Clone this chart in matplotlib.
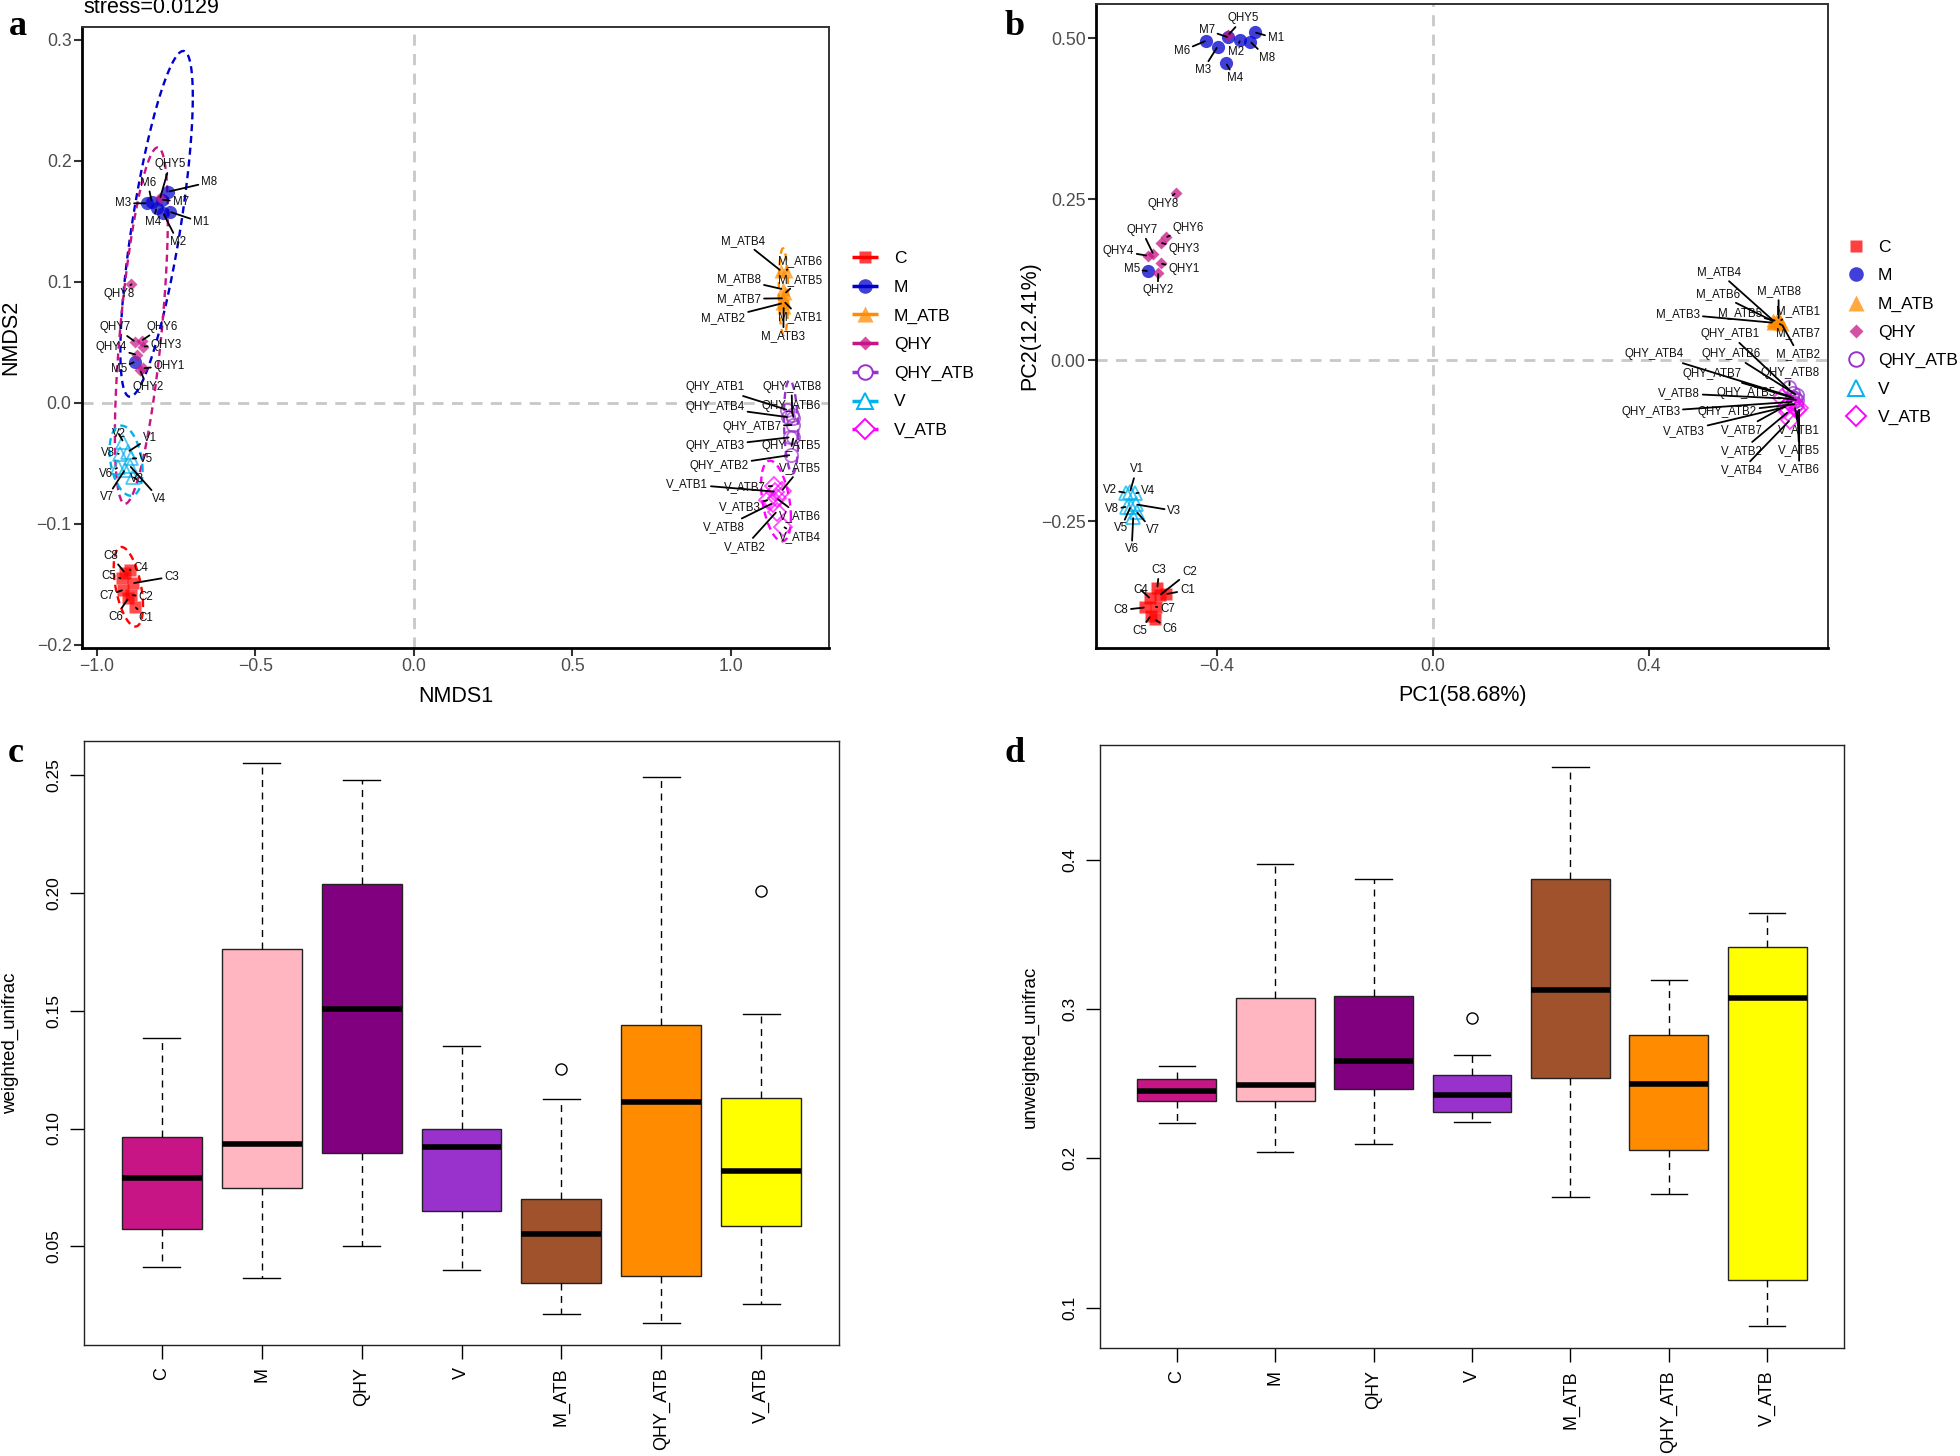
import numpy as np
import matplotlib
matplotlib.use("Agg")
import matplotlib.pyplot as plt
from matplotlib.text import Text

plt.rcParams['font.family'] = ['Liberation Sans', 'DejaVu Sans']

# ===================== DATA =====================
groups = ['C', 'M', 'M_ATB', 'QHY', 'QHY_ATB', 'V', 'V_ATB']
sample_ids = [1, 2, 3, 4, 5, 6, 7, 8]

# ---- panel a : NMDS (samples 1..8) ----
a_C_x = [-0.880, -0.891, -0.887, -0.896, -0.922, -0.901, -0.917, -0.912]
a_C_y = [-0.1683, -0.1587, -0.149, -0.138, -0.145, -0.1614, -0.1545, -0.1402]
a_M_x = [-0.770, -0.791, -0.843, -0.812, -0.880, -0.827, -0.796, -0.775]
a_M_y = [0.158, 0.157, 0.165, 0.161, 0.034, 0.1664, 0.168, 0.1746]
a_MATB_x = [1.168, 1.162, 1.166, 1.157, 1.170, 1.172, 1.165, 1.163]
a_MATB_y = [0.0837, 0.0824, 0.0796, 0.1093, 0.0906, 0.1093, 0.0865, 0.094]
a_QHY_x = [-0.854, -0.864, -0.854, -0.875, -0.801, -0.859, -0.880, -0.891]
a_QHY_y = [0.0287, 0.027, 0.0466, 0.0397, 0.169, 0.0515, 0.0507, 0.098]
a_QHYATB_x = [1.178, 1.188, 1.186, 1.181, 1.197, 1.197, 1.195, 1.193]
a_QHYATB_y = [-0.0058, -0.043, -0.0284, -0.0118, -0.0284, -0.0127, -0.0182, -0.0099]
a_V_x = [-0.901, -0.917, -0.887, -0.896, -0.891, -0.933, -0.912, -0.927]
a_V_y = [-0.0402, -0.032, -0.0609, -0.052, -0.0457, -0.0532, -0.0554, -0.0421]
a_VATB_x = [1.139, 1.144, 1.118, 1.165, 1.160, 1.144, 1.134, 1.131]
a_VATB_y = [-0.0733, -0.0898, -0.0802, -0.1022, -0.0725, -0.0788, -0.0686, -0.0829]
stress_value = 0.0129
ellipse_radius = 3.0781   # sqrt(2 * qF(0.95, 2, 7)) as in stat_ellipse

# ---- panel b : PCoA (samples 1..8) ----
b_C_x = [-0.4944, -0.5056, -0.5105, -0.524, -0.523, -0.515, -0.513, -0.533]
b_C_y = [-0.3634, -0.3649, -0.3535, -0.370, -0.3975, -0.4027, -0.383, -0.384]
b_M_x = [-0.330, -0.357, -0.399, -0.383, -0.5272, -0.420, -0.379, -0.338]
b_M_y = [0.5088, 0.4969, 0.4865, 0.4607, 0.1382, 0.4958, 0.501, 0.4943]
b_MATB_x = [0.6426, 0.6457, 0.630, 0.629, 0.635, 0.632, 0.640, 0.640]
b_MATB_y = [0.0611, 0.0559, 0.058, 0.0621, 0.0611, 0.0595, 0.0569, 0.0632]
b_QHY_x = [-0.5043, -0.5087, -0.5043, -0.5284, -0.379, -0.4944, -0.518, -0.4765]
b_QHY_y = [0.1501, 0.1356, 0.1822, 0.162, 0.5047, 0.1905, 0.1646, 0.2598]
b_QHYATB_x = [0.667, 0.672, 0.667, 0.664, 0.6747, 0.6735, 0.670, 0.660]
b_QHYATB_y = [-0.0518, -0.0683, -0.0647, -0.0569, -0.0621, -0.0543, -0.0595, -0.0414]
b_V_x = [-0.561, -0.5685, -0.550, -0.552, -0.560, -0.555, -0.549, -0.567]
b_V_y = [-0.2045, -0.206, -0.2241, -0.207, -0.2277, -0.2433, -0.2355, -0.2277]
b_VATB_x = [0.670, 0.658, 0.6543, 0.661, 0.6747, 0.678, 0.661, 0.6457]
b_VATB_y = [-0.0725, -0.0802, -0.0725, -0.0932, -0.0776, -0.075, -0.0673, -0.0595]
pc1_label = 'PC1(58.68%)'
pc2_label = 'PC2(12.41%)'

# ---- panels c, d : boxplots ----
box_groups = ['C', 'M', 'QHY', 'V', 'M_ATB', 'QHY_ATB', 'V_ATB']
w_whislo = [0.0412, 0.0368, 0.0500, 0.0402, 0.0215, 0.0177, 0.0255]
w_q1     = [0.0572, 0.0749, 0.0897, 0.0652, 0.0347, 0.0376, 0.0588]
w_med    = [0.0791, 0.0935, 0.1507, 0.0923, 0.0552, 0.1114, 0.0819]
w_q3     = [0.0963, 0.1760, 0.2037, 0.0998, 0.0703, 0.1439, 0.1130]
w_whishi = [0.1383, 0.2548, 0.2478, 0.1350, 0.1126, 0.2492, 0.1485]
w_fliers = [[], [], [], [], [0.1252], [], [0.2005]]

u_whislo = [0.2236, 0.2043, 0.2094, 0.2243, 0.1745, 0.1761, 0.0881]
u_q1     = [0.2382, 0.2382, 0.2467, 0.2312, 0.2540, 0.2056, 0.1188]
u_med    = [0.2452, 0.2493, 0.2651, 0.2426, 0.3129, 0.2499, 0.3072]
u_q3     = [0.2531, 0.3075, 0.3088, 0.2556, 0.3873, 0.2825, 0.3414]
u_whishi = [0.2620, 0.3968, 0.3873, 0.2695, 0.4617, 0.3196, 0.3642]
u_fliers = [[], [], [], [0.2939], [], [], []]

w_ticks = [0.05, 0.10, 0.15, 0.20, 0.25]
u_ticks = [0.1, 0.2, 0.3, 0.4]

# ===================== STYLE / LAYOUT =====================
W, H = 1960, 1456
grp_color = {'C': '#FF0000', 'M': '#0000CD', 'M_ATB': '#FF8C00', 'QHY': '#C71585',
             'QHY_ATB': '#9932CC', 'V': '#00B2EE', 'V_ATB': '#FF00FF'}
grp_marker = {'C': ('s', 8.0, True), 'M': ('o', 9.5, True), 'M_ATB': ('^', 10.0, True),
              'QHY': ('D', 6.5, True), 'QHY_ATB': ('o', 9.5, False), 'V': ('^', 10.0, False),
              'V_ATB': ('D', 9.0, False)}
box_colors = ['#C71585', '#FFB6C1', '#800080', '#9932CC', '#A0522D', '#FF8C00', '#FFFF00']

a_lab = {
    'QHY5': (-0.770, 0.1973), 'M6': (-0.840, 0.1821), 'M8': (-0.646, 0.1824), 'M3': (-0.917, 0.165),
    'M7': (-0.736, 0.1664), 'M4': (-0.824, 0.1493), 'M1': (-0.671, 0.1493), 'M2': (-0.745, 0.1333),
    'QHY8': (-0.931, 0.0901), 'QHY7': (-0.943, 0.0626), 'QHY6': (-0.793, 0.0631), 'QHY4': (-0.956, 0.046),
    'QHY3': (-0.782, 0.0477), 'M5': (-0.931, 0.0283), 'QHY1': (-0.772, 0.0308), 'QHY2': (-0.840, 0.013),
    'V2': (-0.931, -0.0256), 'V1': (-0.833, -0.0286), 'V8': (-0.964, -0.0416), 'V5': (-0.845, -0.046),
    'V6': (-0.972, -0.0589), 'V3': (-0.875, -0.0631), 'V7': (-0.968, -0.0780), 'V4': (-0.803, -0.0793),
    'C8': (-0.956, -0.1262), 'C4': (-0.862, -0.1361), 'C5': (-0.962, -0.1427), 'C3': (-0.764, -0.1435),
    'C7': (-0.969, -0.1593), 'C2': (-0.846, -0.1603), 'C6': (-0.940, -0.1766), 'C1': (-0.845, -0.1777),
    'M_ATB4': (1.039, 0.1339), 'M_ATB6': (1.218, 0.1176), 'M_ATB8': (1.026, 0.1022), 'M_ATB5': (1.218, 0.1017),
    'M_ATB7': (1.026, 0.0860), 'M_ATB2': (0.976, 0.0700), 'M_ATB1': (1.216, 0.0708), 'M_ATB3': (1.165, 0.0554),
    'QHY_ATB1': (0.950, 0.0130), 'QHY_ATB8': (1.191, 0.0135), 'QHY_ATB4': (0.950, -0.0036),
    'QHY_ATB6': (1.191, -0.0022), 'QHY_ATB7': (1.065, -0.0196), 'QHY_ATB3': (0.950, -0.0355),
    'QHY_ATB5': (1.191, -0.0355), 'QHY_ATB2': (0.963, -0.0518),
    'V_ATB5': (1.218, -0.054), 'V_ATB1': (0.862, -0.0672), 'V_ATB7': (1.044, -0.0697), 'V_ATB3': (1.028, -0.0857),
    'V_ATB6': (1.218, -0.0934), 'V_ATB8': (0.978, -0.1027), 'V_ATB4': (1.218, -0.111), 'V_ATB2': (1.044, -0.1188),
}
b_lab = {
    'QHY5': (-0.351, 0.5306), 'M7': (-0.419, 0.5124), 'M1': (-0.291, 0.4995), 'M6': (-0.465, 0.4798),
    'M2': (-0.365, 0.4787), 'M8': (-0.308, 0.4694), 'M3': (-0.426, 0.4503), 'M4': (-0.367, 0.4374),
    'QHY8': (-0.4994, 0.2418), 'QHY6': (-0.4531, 0.2055), 'QHY3': (-0.4611, 0.1724), 'QHY7': (-0.5395, 0.2019),
    'QHY4': (-0.5827, 0.1697), 'QHY1': (-0.4611, 0.1408), 'M5': (-0.558, 0.1408), 'QHY2': (-0.5098, 0.1087),
    'V1': (-0.549, -0.1698), 'V2': (-0.599, -0.2019), 'V4': (-0.527, -0.2034), 'V8': (-0.595, -0.2319),
    'V3': (-0.479, -0.2340), 'V5': (-0.578, -0.2614), 'V7': (-0.519, -0.264), 'V6': (-0.558, -0.2940),
    'C3': (-0.507, -0.3261), 'C2': (-0.451, -0.3287), 'C4': (-0.5407, -0.3571), 'C1': (-0.455, -0.3571),
    'C8': (-0.578, -0.3882), 'C7': (-0.492, -0.3871), 'C5': (-0.5426, -0.4203), 'C6': (-0.487, -0.4177),
    'M_ATB4': (0.530, 0.1361), 'M_ATB6': (0.528, 0.1025), 'M_ATB8': (0.640, 0.1066), 'M_ATB3': (0.454, 0.0714),
    'M_ATB5': (0.5685, 0.0735), 'M_ATB1': (0.6765, 0.0766), 'M_ATB7': (0.6765, 0.0414), 'M_ATB2': (0.6765, 0.0093),
    'QHY_ATB1': (0.550, 0.0404), 'QHY_ATB4': (0.410, 0.0088), 'QHY_ATB6': (0.553, 0.0093),
    'QHY_ATB7': (0.517, -0.0217), 'QHY_ATB8': (0.661, -0.0207), 'QHY_ATB5': (0.5796, -0.0518),
    'QHY_ATB3': (0.403, -0.0802), 'QHY_ATB2': (0.545, -0.0802),
    'V_ATB8': (0.4556, -0.0518), 'V_ATB3': (0.4648, -0.1102), 'V_ATB7': (0.5716, -0.1087), 'V_ATB1': (0.678, -0.1087),
    'V_ATB2': (0.5716, -0.1408), 'V_ATB5': (0.678, -0.1398), 'V_ATB4': (0.5716, -0.1708), 'V_ATB6': (0.678, -0.1698),
}

a_xy = {'C': (a_C_x, a_C_y), 'M': (a_M_x, a_M_y), 'M_ATB': (a_MATB_x, a_MATB_y), 'QHY': (a_QHY_x, a_QHY_y),
        'QHY_ATB': (a_QHYATB_x, a_QHYATB_y), 'V': (a_V_x, a_V_y), 'V_ATB': (a_VATB_x, a_VATB_y)}
b_xy = {'C': (b_C_x, b_C_y), 'M': (b_M_x, b_M_y), 'M_ATB': (b_MATB_x, b_MATB_y), 'QHY': (b_QHY_x, b_QHY_y),
        'QHY_ATB': (b_QHYATB_x, b_QHYATB_y), 'V': (b_V_x, b_V_y), 'V_ATB': (b_VATB_x, b_VATB_y)}

fig = plt.figure(figsize=(W / 100, H / 100), dpi=100)
fig.patch.set_facecolor('white')


def px_axes(l, t, r, b):
    return fig.add_axes([l / W, 1 - b / H, (r - l) / W, (b - t) / H])


def style_gg(ax):
    for s in ax.spines.values():
        s.set_linewidth(1.4)
        s.set_color('#333333')
    for k in ('left', 'bottom'):
        ax.spines[k].set_linewidth(2.0)
        ax.spines[k].set_color('black')
    ax.tick_params(direction='out', length=6, width=1.5, color='#333333',
                   labelsize=12.7, labelcolor='#4D4D4D', pad=1.5)


def conf_ellipse(x, y, radius, n=120):
    x = np.asarray(x, float)
    y = np.asarray(y, float)
    L = np.linalg.cholesky(np.cov(x, y))
    t = np.linspace(0, 2 * np.pi, n)
    pts = (L @ np.vstack([np.cos(t), np.sin(t)])) * radius
    return x.mean() + pts[0], y.mean() + pts[1]


def draw_points(ax, xy, alpha):
    for g in groups:
        m, ms, filled = grp_marker[g]
        x, y = xy[g]
        c = grp_color[g]
        if filled:
            ax.plot(x, y, ls='none', marker=m, ms=ms, mfc=c, mec='none', alpha=alpha, zorder=3)
        else:
            ax.plot(x, y, ls='none', marker=m, ms=ms, mfc='none', mec=c, mew=1.3, alpha=alpha, zorder=3)


renderer = fig.canvas.get_renderer()


def draw_labels(ax, xy, labpos, fs=8.3, thresh=9.5):
    for g in groups:
        x, y = xy[g]
        for sid, xi, yi in zip(sample_ids, x, y):
            name = f'{g}{sid}'
            tx, ty = labpos[name]
            ann = ax.annotate(name, xy=(xi, yi), xytext=(tx, ty), ha='center', va='center',
                              fontsize=fs, color='#111111', zorder=5,
                              arrowprops=dict(arrowstyle='-', color='black', lw=1.3,
                                              shrinkA=0, shrinkB=1))
            bb = Text.get_window_extent(ann, renderer)
            px, py = ax.transData.transform((xi, yi))
            dx = max(bb.x0 - px, 0, px - bb.x1)
            dy = max(bb.y0 - py, 0, py - bb.y1)
            if np.hypot(dx, dy) < thresh:
                ann.arrow_patch.set_visible(False)


# ===================== PANEL a =====================
axa = px_axes(82, 27, 829, 648)
axa.set_xlim(-1.047, 1.309)
axa.set_ylim(-0.2025, 0.3107)
style_gg(axa)
axa.axhline(0, color='#C8C8C8', lw=2, ls=(0, (4, 3)), zorder=1)
axa.axvline(0, color='#C8C8C8', lw=2, ls=(0, (4, 3)), zorder=1)
for g in groups:
    ex, ey = conf_ellipse(*a_xy[g], ellipse_radius)
    axa.plot(ex, ey, color=grp_color[g], lw=1.7, ls=(0, (3, 2)), zorder=2)
draw_points(axa, a_xy, 0.7)
axa.set_xticks([-1.0, -0.5, 0.0, 0.5, 1.0])
axa.set_yticks([-0.2, -0.1, 0.0, 0.1, 0.2, 0.3])
axa.set_xticklabels(['\u22121.0', '\u22120.5', '0.0', '0.5', '1.0'])
axa.set_yticklabels(['\u22120.2', '\u22120.1', '0.0', '0.1', '0.2', '0.3'])
draw_labels(axa, a_xy, a_lab)
axa.text(0.5, -48 / 621, 'NMDS1', transform=axa.transAxes, ha='center', va='center', fontsize=15.5)
axa.text(-71 / 747, 0.5, 'NMDS2', transform=axa.transAxes, ha='center', va='center',
         rotation=90, fontsize=15.5)

# ===================== PANEL b =====================
axb = px_axes(1096, 4, 1828, 648)
axb.set_xlim(-0.624, 0.7315)
axb.set_ylim(-0.447, 0.5528)
style_gg(axb)
axb.axhline(0, color='#C8C8C8', lw=2, ls=(0, (4, 3)), zorder=1)
axb.axvline(0, color='#C8C8C8', lw=2, ls=(0, (4, 3)), zorder=1)
draw_points(axb, b_xy, 0.75)
axb.set_xticks([-0.4, 0.0, 0.4])
axb.set_xticklabels(['\u22120.4', '0.0', '0.4'])
axb.set_yticks([-0.25, 0.0, 0.25, 0.5])
axb.set_yticklabels(['\u22120.25', '0.00', '0.25', '0.50'])
draw_labels(axb, b_xy, b_lab)
axb.text(0.5, -48 / 644, pc1_label, transform=axb.transAxes, ha='center', va='center', fontsize=15.5)
axb.text(-66 / 732, 0.5, pc2_label, transform=axb.transAxes, ha='center', va='center',
         rotation=90, fontsize=15.5)


# ===================== PANELS c, d =====================
def draw_box(ax, lo, q1, med, q3, hi, fl, ticks, ylabel, lab_x):
    stats = [dict(whislo=lo[i], q1=q1[i], med=med[i], q3=q3[i], whishi=hi[i], fliers=fl[i])
             for i in range(len(box_groups))]
    bp = ax.bxp(stats, positions=range(1, len(box_groups) + 1), widths=0.8, patch_artist=True,
                showfliers=True, capwidths=0.37,
                boxprops=dict(edgecolor='#222222', linewidth=1.0),
                medianprops=dict(color='black', linewidth=4, solid_capstyle='butt'),
                whiskerprops=dict(color='black', linewidth=1.0, linestyle=(0, (5, 4))),
                capprops=dict(color='black', linewidth=1.0),
                flierprops=dict(marker='o', mfc='none', mec='black', ms=8, mew=1.0))
    for patch, c in zip(bp['boxes'], box_colors):
        patch.set_facecolor(c)
    ax.set_xlim(0.5 - 0.28, len(box_groups) + 0.5 + 0.28)
    ax.set_ymargin(0.04)
    ax.autoscale_view(scalex=False)
    ax.set_xticks(range(1, len(box_groups) + 1))
    ax.set_xticklabels(box_groups, rotation=90, fontsize=13)
    ax.set_yticks(ticks)
    ax.set_yticklabels([f'{t:.2f}' if ticks[0] < 0.1 else f'{t:.1f}' for t in ticks],
                       rotation=90, va='center', fontsize=12.5)
    ax.tick_params(direction='out', length=10, width=1.0, color='black', pad=6)
    for s in ax.spines.values():
        s.set_linewidth(1.0)
        s.set_color('#222222')
    ax.text(lab_x, 0.5, ylabel, transform=ax.transAxes, rotation=90, ha='center', va='center',
            fontsize=13.5)


axc = px_axes(84, 741, 839, 1345)
draw_box(axc, w_whislo, w_q1, w_med, w_q3, w_whishi, w_fliers, w_ticks, 'weighted_unifrac', -74 / 755)
axd = px_axes(1100, 745, 1844, 1348)
draw_box(axd, u_whislo, u_q1, u_med, u_q3, u_whishi, u_fliers, u_ticks, 'unweighted_unifrac', -70 / 744)

# ===================== overlay: legends, panel letters =====================
ov = fig.add_axes([0, 0, 1, 1], zorder=10)
ov.set_xlim(0, W)
ov.set_ylim(H, 0)
ov.axis('off')


def legend_marker(x, y, g, with_line):
    m, ms, filled = grp_marker[g]
    c = grp_color[g]
    if with_line:
        ov.plot([852, 878], [y, y], color=c, lw=2.5, solid_capstyle='butt')
    if filled:
        ov.plot([x], [y], marker=m, ms=ms + 1, mfc=c, mec='none', alpha=0.75)
    else:
        ov.plot([x], [y], marker=m, ms=ms + 1, mfc='white', mec=c, mew=1.4)


for i, g in enumerate(groups):
    ya = 257 + i * 28.7
    legend_marker(865, ya, g, True)
    ov.text(894, ya, g, fontsize=12.5, ha='left', va='center_baseline')
    yb = 246 + i * 28.3
    legend_marker(1856, yb, g, False)
    ov.text(1878, yb, g, fontsize=12.5, ha='left', va='center_baseline')

ov.text(83, 13, f'stress={stress_value}', fontsize=15.5, ha='left', va='baseline')
for letter, x, y in [('a', 18, 35), ('b', 1015, 35), ('c', 16, 762), ('d', 1015, 762)]:
    ov.text(x, y, letter, fontsize=26, fontweight='bold', family='Liberation Serif',
            ha='center', va='baseline')

fig.savefig('out.png', dpi=100, facecolor='white')
